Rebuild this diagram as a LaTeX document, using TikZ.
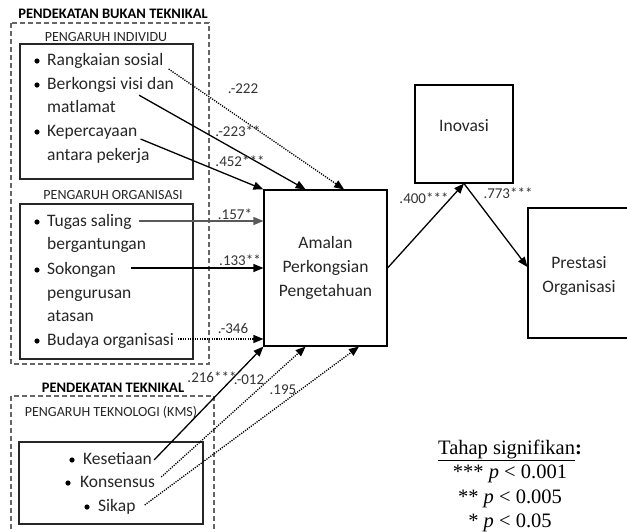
\documentclass[tikz,border=0pt]{standalone}
\usepackage{fontspec}
\setmainfont{Carlito}
\newfontfamily\legendfont{Liberation Serif}
\usetikzlibrary{calc,arrows.meta}

\tikzset{
	item/.style={anchor=base west, inner sep=0pt, text=black!85, font=\fontsize{17.5}{20}\selectfont},
	head/.style={anchor=base, inner sep=0pt, text=black!85, font=\fontsize{14}{16}\selectfont},
	bighead/.style={anchor=base, inner sep=0pt, text=black, font=\fontsize{14.5}{16}\selectfont\bfseries},
	coef/.style={anchor=base, inner sep=0pt, text=black!80, font=\fontsize{15}{17}\selectfont},
	konstruk/.style={draw, line width=1.1pt, align=center, text=black!85, font=\fontsize{17.5}{24}\selectfont},
	grp/.style={draw=black!60, line width=1.1pt, dash pattern=on 5pt off 3pt},
	box/.style={draw=black!85, line width=1.1pt},
	arr/.style={line width=1.3pt, -{Triangle[length=10pt,width=8pt]}},
	dotarr/.style={arr, dash pattern=on 1.2pt off 1.2pt},
}

\begin{document}
\begin{tikzpicture}[x=1pt, y=-1pt]
	%%%%% START %%%%%
	\clip (0,0) rectangle (627,531);
	
	% bukan teknikal
	\node[bighead] (pbt) at (113,18) {PENDEKATAN BUKAN TEKNIKAL};
	\draw[grp] (11,23) rectangle (209,364);
	
	\node[head] (pi) at (106,41.5) {PENGARUH INDIVIDU};
	\draw[box] (20,44) rectangle (193,179);
	\node[item] (rs) at (47,65) {Rangkaian sosial};
	\node[item] (bkv) at (47,89) {Berkongsi visi dan};
	\node[item] (bkv2) at (47,112) {matlamat};
	\node[item] (kep) at (47,136) {Kepercayaan};
	\node[item] (kep2) at (47,160) {antara pekerja};
	\foreach \y in {61,85,132} \fill (37,\y) circle (2.6pt);
	
	\node[head] (po) at (113,199.5) {PENGARUH ORGANISASI};
	\draw[box] (20,204) rectangle (193,359);
	\node[item] (tug) at (47,226) {Tugas saling};
	\node[item] (tug2) at (47,249) {bergantungan};
	\node[item] (sok) at (47,274) {Sokongan};
	\node[item] (sok2) at (47,298) {pengurusan};
	\node[item] (sok3) at (47,321) {atasan};
	\node[item] (bud) at (47,345) {Budaya organisasi};
	\foreach \y in {222,270,341} \fill (37,\y) circle (2.6pt);
	
	% teknikal
	\node[bighead] (pt) at (113,392) {PENDEKATAN TEKNIKAL};
	\draw[grp] (11,396) rectangle (214,545);
	\node[head] (ptk) at (111,416.5) {PENGARUH TEKNOLOGI (KMS)};
	\draw[box] (19,442) rectangle (203,524);
	\node[item] (kes) at (83,464) {Kesetiaan};
	\node[item] (kon) at (80,487) {Konsensus};
	\node[item] (sik) at (98,511) {Sikap};
	\fill (72,460) circle (2.6pt);
	\fill (68,483) circle (2.6pt);
	\fill (87,507) circle (2.6pt);
	
	% konstruk
	\node[konstruk, minimum width=123pt, minimum height=156pt] (apt) at (325.5,268) {Amalan\\Perkongsian\\Pengetahuan};
	\node[konstruk, minimum width=98pt, minimum height=98pt] (inov) at (464,134) {};
	\node[konstruk, draw=none] (inovt) at ([yshift=8pt]inov.center) {Inovasi};
	\node[konstruk, minimum width=102pt, minimum height=130pt] (prest) at (579,273) {};
	\node[konstruk, draw=none] (prestt) at ([yshift=-3pt]prest.center) {Prestasi\\Organisasi};
	
	% laluan
	\draw[dotarr] ([xshift=5pt,yshift=-4pt]rs.base east) -- ($(apt.north west)!0.65!(apt.north east)$);
	\draw[arr] ([xshift=-35pt,yshift=-3pt]bkv.south east) -- ($(apt.north west)!0.34!(apt.north east)$);
	\draw[arr] ([xshift=3pt]kep.south east) -- (apt.north west);
	\draw[arr, black!65] ([xshift=7pt,yshift=5pt]tug.base east) -- ([yshift=5pt]tug.base east -| apt.west);
	\draw[arr] ([xshift=15pt,yshift=6pt]sok.base east) -- ([yshift=6pt]sok.base east -| apt.west);
	\draw[dotarr] ([xshift=4pt,yshift=6pt]bud.base east) -- ([yshift=6pt]bud.base east -| apt.west);
	\draw[arr] ([xshift=2pt,yshift=4pt]kes.base east) -- (apt.south west);
	\draw[dotarr] ([xshift=6pt,yshift=10pt]kon.base east) -- ($(apt.south west)!0.34!(apt.south east)$);
	\draw[dotarr] ([xshift=9pt,yshift=6pt]sik.base east) -- ($(apt.south west)!0.77!(apt.south east)$);
	\draw[arr] (apt.east) -- (inov.south);
	\draw[arr] (inov.south) -- ([yshift=6pt]prest.west);
	
	% pekali
	\node[coef] (c1) at (243,93) {.-222};
	\node[coef] (c2) at (238,136) {.-223**};
	\node[coef] (c3) at (240,166) {.452***};
	\node[coef] (c4) at (235,219) {.157*};
	\node[coef] (c5) at (240,265) {.133**};
	\node[coef] (c6) at (233,333) {.-346};
	\node[coef] (c7) at (212,382) {.216***};
	\node[coef] (c8) at (249,384) {.-012};
	\node[coef] (c9) at (283,394) {.195};
	\node[coef] (c10) at (424,203) {.400***};
	\node[coef] (c11) at (508,198) {.773***};
	
	% tahap signifikan
	\node[align=center, inner sep=0pt, font=\legendfont\fontsize{20.5}{24.3}\selectfont] (sig) at (510,486)
		{\underline{Tahap signifikan}\textbf{:}\\*** \textit{p} < 0.001\\** \textit{p} < 0.005\\* \textit{p} < 0.05};
	
	%%%%% END %%%%%
\end{tikzpicture}
\end{document}
